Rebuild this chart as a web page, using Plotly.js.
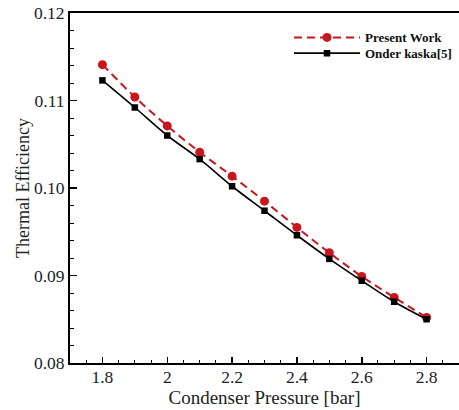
<!DOCTYPE html>
<html>
<head>
<meta charset="utf-8">
<script src="https://cdn.plot.ly/plotly-3.0.1.min.js"></script>
<style>html,body{margin:0;padding:0;background:#fff;}#chart{width:459px;height:410px;}</style>
</head>
<body>
<div id="chart"></div>
<script>
const pressure = [1.8, 1.9, 2.0, 2.1, 2.2, 2.3, 2.4, 2.5, 2.6, 2.7, 2.8];
const presentWork = [0.1141, 0.1104, 0.1071, 0.1041, 0.10135, 0.0985, 0.0955, 0.0926, 0.0899, 0.0875, 0.0852];
const onderKaska = [0.1123, 0.1092, 0.1060, 0.1033, 0.1002, 0.0974, 0.0946, 0.0919, 0.0894, 0.0870, 0.0850];
const seriesNames = ['Present Work', 'Onder kaska[5]'];

const traces = [
  {
    x: pressure, y: presentWork, name: seriesNames[0], type: 'scatter', mode: 'lines+markers',
    legend: 'legend',
    line: {color: '#c8161d', width: 2, dash: '8px,5px', shape: 'spline'},
    marker: {symbol: 'circle', size: 9, color: '#c8161d'}
  },
  {
    x: pressure, y: onderKaska, name: seriesNames[1], type: 'scatter', mode: 'lines+markers',
    legend: 'legend2',
    line: {color: '#000000', width: 1.6, shape: 'spline'},
    marker: {symbol: 'square', size: 6.5, color: '#000000'}
  }
];

const serif = '"Liberation Serif", "Times New Roman", serif';
const legendFont = {family: serif, size: 13, color: '#111', weight: 'bold'};
const layout = {
  width: 459, height: 410,
  margin: {l: 70, r: 0, t: 13, b: 47},
  paper_bgcolor: '#fff', plot_bgcolor: '#fff',
  showlegend: true,
  legend: {
    x: (289 - 70) / 389, y: 0.973, xanchor: 'left', yanchor: 'top',
    bgcolor: 'rgba(0,0,0,0)', itemwidth: 66, font: legendFont
  },
  legend2: {
    x: (289 - 70) / 389, y: 0.928, xanchor: 'left', yanchor: 'top',
    bgcolor: 'rgba(0,0,0,0)', itemwidth: 66, font: legendFont
  },
  xaxis: {
    range: [1.7, 2.9], dtick: 0.2, tick0: 1.8,
    ticks: 'inside', ticklen: 6, tickwidth: 1.5, tickcolor: '#000',
    showline: true, linecolor: '#000', linewidth: 2, mirror: true,
    showgrid: false, zeroline: false, ticklabelstandoff: -3,
    minor: {dtick: 0.05, ticks: 'inside', ticklen: 3, tickwidth: 1, tickcolor: '#000', showgrid: false},
    tickfont: {family: serif, size: 17.5, color: '#222'},
    title: {text: 'Condenser Pressure [bar]', font: {family: serif, size: 19, color: '#222'}, standoff: 3}
  },
  yaxis: {
    range: [0.08, 0.12], dtick: 0.01, tick0: 0.08, tickformat: '.2f',
    ticks: 'inside', ticklen: 7, tickwidth: 1.5, tickcolor: '#000',
    showline: true, linecolor: '#000', linewidth: 2, mirror: false,
    showgrid: false, zeroline: false,
    minor: {dtick: 0.002, ticks: 'inside', ticklen: 4, tickwidth: 1, tickcolor: '#000', showgrid: false},
    tickfont: {family: serif, size: 17.5, color: '#222'},
    title: {text: 'Thermal Efficiency', font: {family: serif, size: 18, color: '#222'}, standoff: 0}
  }
};

Plotly.newPlot('chart', traces, layout, {displayModeBar: false, staticPlot: true});
</script>
</body>
</html>
